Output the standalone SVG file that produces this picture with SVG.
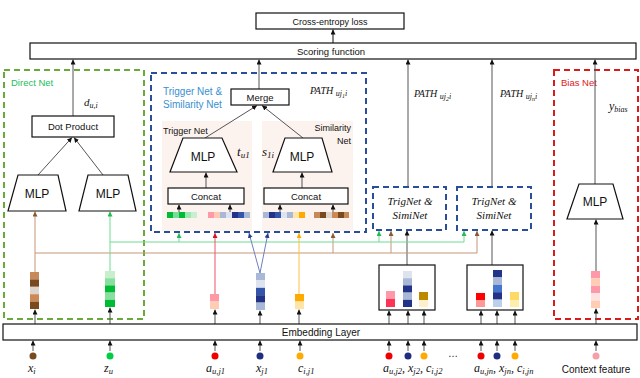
<svg xmlns="http://www.w3.org/2000/svg" width="640" height="378" viewBox="0 0 640 378">
<style>
.box{fill:#fff;stroke:#111;stroke-width:1.2}
.t{font-family:"Liberation Sans","DejaVu Sans",sans-serif;font-size:9px;fill:#111;text-anchor:middle}
.mlp{font-family:"Liberation Sans","DejaVu Sans",sans-serif;font-size:12px;fill:#111;text-anchor:middle}
.m{font-family:"Liberation Serif","DejaVu Serif",serif;font-style:italic;font-size:12px;fill:#111}
.c{fill:none;stroke-width:1}
.k{stroke:#555;marker-end:url(#ak)}
.br{stroke:#c4977a}
.gr{stroke:#6fdc92}
.dash{fill:none;stroke-width:2;stroke-dasharray:6,4}
</style>
<defs>
<marker id="ak" viewBox="0 0 6 6" refX="6" refY="3" markerWidth="5" markerHeight="5" markerUnits="userSpaceOnUse" orient="auto"><path d="M0,0L6,3L0,6z" fill="#111"/></marker>
<marker id="abr" viewBox="0 0 6 6" refX="6" refY="3" markerWidth="5" markerHeight="5" markerUnits="userSpaceOnUse" orient="auto"><path d="M0,0L6,3L0,6z" fill="#8a5a30"/></marker>
<marker id="agr" viewBox="0 0 6 6" refX="6" refY="3" markerWidth="5" markerHeight="5" markerUnits="userSpaceOnUse" orient="auto"><path d="M0,0L6,3L0,6z" fill="#22bb55"/></marker>
<marker id="ard" viewBox="0 0 6 6" refX="6" refY="3" markerWidth="5" markerHeight="5" markerUnits="userSpaceOnUse" orient="auto"><path d="M0,0L6,3L0,6z" fill="#dd1122"/></marker>
<marker id="abl" viewBox="0 0 6 6" refX="6" refY="3" markerWidth="5" markerHeight="5" markerUnits="userSpaceOnUse" orient="auto"><path d="M0,0L6,3L0,6z" fill="#2a3d8f"/></marker>
<marker id="aor" viewBox="0 0 6 6" refX="6" refY="3" markerWidth="5" markerHeight="5" markerUnits="userSpaceOnUse" orient="auto"><path d="M0,0L6,3L0,6z" fill="#ffaa00"/></marker>
</defs>
<rect width="640" height="378" fill="#fff"/>

<!-- region boxes -->
<g id="direct-net">
<rect x="4" y="70" width="140" height="249" class="dash" stroke="#6aaa3a"/>
<text x="11" y="86" style="font-family:'Liberation Sans',sans-serif;font-size:9.5px;fill:#22c05a">Direct Net</text>
</g>
<g id="trigger-similarity-net">
<rect x="151" y="73" width="215" height="159" class="dash" stroke="#2a4f9a"/>
<text x="163" y="95" style="font-family:'Liberation Sans',sans-serif;font-size:10px;fill:#3a8fd0">Trigger Net &amp;</text>
<text x="163" y="108" style="font-family:'Liberation Sans',sans-serif;font-size:10px;fill:#3a8fd0">Similarity  Net</text>
<text x="310" y="94" class="m" style="font-size:10px">PATH <tspan font-size="8" dy="2">uj<tspan font-size="6" dy="2">1</tspan><tspan dy="-2">i</tspan></tspan></text>
<rect x="162" y="121" width="90" height="110" fill="#fdf3ee"/>
<rect x="262" y="121" width="91" height="110" fill="#fdf3ee"/>
<text x="163" y="134" style="font-family:'Liberation Sans',sans-serif;font-size:9px;fill:#111">Trigger Net</text>
<text x="351" y="131" text-anchor="end" style="font-family:'Liberation Sans',sans-serif;font-size:9px;fill:#111">Similarity</text>
<text x="351" y="144" text-anchor="end" style="font-family:'Liberation Sans',sans-serif;font-size:9px;fill:#111">Net</text>
</g>
<g id="bias-net">
<rect x="554" y="70" width="84" height="249" class="dash" stroke="#dd1a1a"/>
<text x="561" y="86" style="font-family:'Liberation Sans',sans-serif;font-size:9.5px;fill:#dd1a1a">Bias Net</text>
<text x="609" y="110" class="m">y<tspan font-size="8" dy="2">bias</tspan></text>
</g>

<!-- connectors -->
<g id="connectors">
<line x1="333" y1="43" x2="333" y2="29.5" class="c" stroke="#111" stroke-width="1.8" marker-end="url(#ak)"/>
<line x1="73" y1="116" x2="73" y2="59.5" class="c k"/>
<line x1="259" y1="89" x2="259" y2="59.5" class="c k"/>
<line x1="408" y1="187" x2="408" y2="59.5" class="c k"/>
<line x1="492" y1="187" x2="492" y2="59.5" class="c k"/>
<line x1="595" y1="184" x2="595" y2="59.5" class="c k"/>
<line x1="38" y1="175" x2="72" y2="137.5" class="c k"/>
<line x1="103" y1="175" x2="74" y2="137.5" class="c k"/>
<line x1="205" y1="138" x2="257" y2="105.5" class="c k"/>
<line x1="303" y1="138" x2="262" y2="105.5" class="c k"/>
<line x1="206" y1="188" x2="206" y2="172.5" class="c k"/>
<line x1="302" y1="188" x2="302" y2="172.5" class="c k"/>
<line x1="179" y1="213" x2="179" y2="204.5" class="c k"/>
<line x1="230" y1="213" x2="230" y2="204.5" class="c k"/>
<line x1="280" y1="213" x2="280" y2="204.5" class="c k"/>
<line x1="333" y1="213" x2="333" y2="204.5" class="c k"/>
<line x1="407" y1="265" x2="407" y2="230.5" class="c k"/>
<line x1="492" y1="265" x2="492" y2="230.5" class="c k"/>
<line x1="596" y1="271" x2="596" y2="219.5" class="c k"/>
<!-- embedding to bars -->
<line x1="35" y1="324" x2="35" y2="309.5" class="c k"/>
<line x1="110" y1="324" x2="110" y2="307.5" class="c k"/>
<line x1="215" y1="324" x2="215" y2="309.5" class="c k"/>
<line x1="260" y1="324" x2="260" y2="310.5" class="c k"/>
<line x1="299" y1="324" x2="299" y2="309.5" class="c k"/>
<line x1="389" y1="324" x2="389" y2="310.5" class="c k"/>
<line x1="408" y1="324" x2="408" y2="310.5" class="c k"/>
<line x1="424" y1="324" x2="424" y2="310.5" class="c k"/>
<line x1="481" y1="324" x2="481" y2="310.5" class="c k"/>
<line x1="497" y1="324" x2="497" y2="310.5" class="c k"/>
<line x1="515" y1="324" x2="515" y2="310.5" class="c k"/>
<line x1="596" y1="324" x2="596" y2="308.5" class="c k"/>
<!-- inputs to embedding -->
<line x1="33" y1="351" x2="33" y2="340.5" class="c k"/>
<line x1="110" y1="351" x2="110" y2="340.5" class="c k"/>
<line x1="215" y1="351" x2="215" y2="340.5" class="c k"/>
<line x1="260" y1="351" x2="260" y2="340.5" class="c k"/>
<line x1="300" y1="351" x2="300" y2="340.5" class="c k"/>
<line x1="389" y1="351" x2="389" y2="340.5" class="c k"/>
<line x1="408" y1="351" x2="408" y2="340.5" class="c k"/>
<line x1="424" y1="351" x2="424" y2="340.5" class="c k"/>
<line x1="481" y1="351" x2="481" y2="340.5" class="c k"/>
<line x1="497" y1="351" x2="497" y2="340.5" class="c k"/>
<line x1="515" y1="351" x2="515" y2="340.5" class="c k"/>
<line x1="596" y1="351" x2="596" y2="340.5" class="c k"/>
<!-- brown -->
<line x1="35" y1="272" x2="35" y2="211.5" class="c br" marker-end="url(#abr)"/>
<line x1="35" y1="253" x2="477" y2="253" class="c br"/>
<line x1="333" y1="253" x2="333" y2="233" class="c br" marker-end="url(#abr)"/>
<line x1="391" y1="253" x2="391" y2="231" class="c br" marker-end="url(#abr)"/>
<line x1="477" y1="253" x2="477" y2="231" class="c br" marker-end="url(#abr)"/>
<!-- green -->
<line x1="110" y1="271" x2="110" y2="211.5" class="c gr" marker-end="url(#agr)"/>
<line x1="110" y1="242" x2="464" y2="242" class="c gr"/>
<line x1="179" y1="242" x2="179" y2="233" class="c gr" marker-end="url(#agr)"/>
<line x1="379" y1="242" x2="379" y2="231" class="c gr" marker-end="url(#agr)"/>
<line x1="464" y1="242" x2="464" y2="231" class="c gr" marker-end="url(#agr)"/>
<!-- red / blue / orange -->
<line x1="215" y1="294" x2="215" y2="233" class="c" stroke="#ee5566" marker-end="url(#ard)"/>
<line x1="260" y1="273" x2="249" y2="233" class="c" stroke="#6f7fbf" marker-end="url(#abl)"/>
<line x1="260" y1="273" x2="268" y2="233" class="c" stroke="#6f7fbf" marker-end="url(#abl)"/>
<line x1="299" y1="294" x2="299" y2="233" class="c" stroke="#ffc040" marker-end="url(#aor)"/>
</g>

<!-- top boxes -->
<g id="cross-entropy">
<rect x="256" y="13" width="148" height="16" class="box"/>
<text x="330" y="24.5" class="t">Cross-entropy loss</text>
</g>
<g id="scoring">
<rect x="30" y="43" width="606" height="16" class="box"/>
<text x="331" y="54.5" class="t" style="font-size:9.5px">Scoring function</text>
</g>

<!-- direct net nodes -->
<g id="dot-product">
<rect x="32" y="116" width="82" height="21" class="box"/>
<text x="73" y="130" class="t" style="font-size:9.5px">Dot Product</text>
<text x="84" y="106" class="m" style="font-size:11px">d<tspan font-size="8" dy="2">u,i</tspan></text>
</g>
<g id="direct-mlp-1">
<path d="M18,175H58L66,211H8Z" class="box"/>
<text x="37" y="198" class="mlp">MLP</text>
</g>
<g id="direct-mlp-2">
<path d="M88,175H128L136,211H79Z" class="box"/>
<text x="108" y="198" class="mlp">MLP</text>
</g>

<!-- trigger/similarity nodes -->
<g id="merge">
<rect x="231" y="89" width="58" height="16" class="box"/>
<text x="260" y="100.5" class="t" style="font-size:9.5px">Merge</text>
</g>
<g id="trigger-mlp">
<path d="M183,138H222L237,172H170Z" class="box"/>
<text x="203" y="161" class="mlp">MLP</text>
<text x="237" y="156" class="m" style="font-size:13px">t<tspan font-size="9" dy="2">u1</tspan></text>
</g>
<g id="similarity-mlp">
<path d="M285,138H322L332,172H273Z" class="box"/>
<text x="302" y="161" class="mlp">MLP</text>
<text x="262" y="156" class="m" style="font-size:13px">s<tspan font-size="9" dy="2">1i</tspan></text>
</g>
<g id="trigger-concat">
<rect x="168" y="188" width="76" height="16" class="box"/>
<text x="206" y="199.5" class="t" style="font-size:9.5px">Concat</text>
<g stroke="none">
<rect x="167" y="212" width="6" height="6" fill="#00bb33"/><rect x="173" y="212" width="6" height="6" fill="#77dd99"/><rect x="179" y="212" width="6" height="6" fill="#00bb33"/><rect x="185" y="212" width="6" height="6" fill="#99e8b0"/><rect x="191" y="212" width="6" height="6" fill="#c8f0d0"/>
<rect x="208" y="212" width="6" height="6" fill="#ff99a6"/><rect x="214" y="212" width="6" height="6" fill="#ffc8b4"/><rect x="220" y="212" width="6" height="6" fill="#aab8d8"/><rect x="226" y="212" width="6" height="6" fill="#dde4f0"/><rect x="232" y="212" width="6" height="6" fill="#223388"/><rect x="238" y="212" width="6" height="6" fill="#3355aa"/><rect x="244" y="212" width="6" height="6" fill="#aab8d8"/>
</g>
</g>
<g id="similarity-concat">
<rect x="264" y="188" width="84" height="16" class="box"/>
<text x="306" y="199.5" class="t" style="font-size:9.5px">Concat</text>
<g stroke="none">
<rect x="263" y="212" width="6" height="6" fill="#aab8d8"/><rect x="269" y="212" width="6" height="6" fill="#223388"/><rect x="275" y="212" width="6" height="6" fill="#3355aa"/><rect x="281" y="212" width="6" height="6" fill="#dde4f0"/><rect x="287" y="212" width="6" height="6" fill="#aab8d8"/><rect x="293" y="212" width="6" height="6" fill="#ffe6a8"/><rect x="299" y="212" width="6" height="6" fill="#ffaa00"/>
<rect x="314" y="212" width="6" height="6" fill="#c8895a"/><rect x="320" y="212" width="6" height="6" fill="#7a4a1f"/><rect x="326" y="212" width="6" height="6" fill="#ddd5cc"/><rect x="332" y="212" width="6" height="6" fill="#cc8855"/><rect x="338" y="212" width="6" height="6" fill="#7a4a1f"/><rect x="344" y="212" width="5" height="6" fill="#c8895a"/>
</g>
</g>

<!-- TrigNet & SimiNet boxes -->
<g id="trigsimi-2">
<rect x="373" y="187" width="73" height="43" class="dash" stroke="#2a4f9a"/>
<text x="410" y="205" class="m" text-anchor="middle" style="font-size:11px">TrigNet &amp;</text>
<text x="410" y="219" class="m" text-anchor="middle" style="font-size:11px">SimiNet</text>
<text x="414" y="97" class="m" style="font-size:10px">PATH <tspan font-size="8" dy="2">uj<tspan font-size="6" dy="2">2</tspan><tspan dy="-2">i</tspan></tspan></text>
</g>
<g id="trigsimi-n">
<rect x="457" y="187" width="74" height="43" class="dash" stroke="#2a4f9a"/>
<text x="494" y="205" class="m" text-anchor="middle" style="font-size:11px">TrigNet &amp;</text>
<text x="494" y="219" class="m" text-anchor="middle" style="font-size:11px">SimiNet</text>
<text x="500" y="97" class="m" style="font-size:10px">PATH <tspan font-size="8" dy="2">uj<tspan font-size="6" dy="2">n</tspan><tspan dy="-2">i</tspan></tspan></text>
</g>

<!-- bias MLP -->
<g id="bias-mlp">
<path d="M579,184H613L623,219H567Z" class="box"/>
<text x="595" y="206" class="mlp">MLP</text>
</g>

<!-- embedding vectors -->
<g id="vec-xi">
<rect x="30" y="272" width="9" height="7.4" fill="#c8895a"/><rect x="30" y="279.4" width="9" height="7.4" fill="#7a4a1f"/><rect x="30" y="286.8" width="9" height="7.4" fill="#ddd5cc"/><rect x="30" y="294.2" width="9" height="7.4" fill="#cc8855"/><rect x="30" y="301.6" width="9" height="7.4" fill="#7a4a1f"/>
</g>
<g id="vec-zu">
<rect x="105" y="271" width="10" height="7.2" fill="#c8eecc"/><rect x="105" y="278.2" width="10" height="7.2" fill="#88e0a0"/><rect x="105" y="285.4" width="10" height="7.2" fill="#00bb33"/><rect x="105" y="292.6" width="10" height="7.2" fill="#88e0a0"/><rect x="105" y="299.8" width="10" height="7.2" fill="#00bb33"/>
</g>
<g id="vec-a1">
<rect x="210" y="294" width="9" height="7.5" fill="#ff99a6"/><rect x="210" y="301.5" width="9" height="7.5" fill="#ffccb4"/>
</g>
<g id="vec-x1">
<rect x="256" y="273" width="9" height="7.4" fill="#aab8d8"/><rect x="256" y="280.4" width="9" height="7.4" fill="#dde4f0"/><rect x="256" y="287.8" width="9" height="7.4" fill="#3355aa"/><rect x="256" y="295.2" width="9" height="7.4" fill="#223388"/><rect x="256" y="302.6" width="9" height="7.4" fill="#aab8d8"/>
</g>
<g id="vec-c1">
<rect x="295" y="294" width="9" height="7.5" fill="#ffaa00"/><rect x="295" y="301.5" width="9" height="7.5" fill="#ffe4a8"/>
</g>
<g id="group-2">
<rect x="379" y="265" width="56" height="45" class="box" stroke-width="1.5"/>
<rect x="386" y="291" width="9" height="8" fill="#ff99aa"/><rect x="386" y="299" width="9" height="8" fill="#ff3355"/>
<rect x="403" y="271" width="9" height="7.2" fill="#dde4f0"/><rect x="403" y="278.2" width="9" height="7.2" fill="#aab8d8"/><rect x="403" y="285.4" width="9" height="7.2" fill="#223388"/><rect x="403" y="292.6" width="9" height="7.2" fill="#aab8d8"/><rect x="403" y="299.8" width="9" height="7.2" fill="#223388"/>
<rect x="419" y="292" width="9" height="8" fill="#bb8800"/><rect x="419" y="300" width="9" height="7" fill="#fff0cc"/>
</g>
<g id="group-n">
<rect x="467" y="265" width="56" height="45" class="box" stroke-width="1.5"/>
<rect x="476" y="293" width="9" height="7" fill="#ff0000"/><rect x="476" y="300" width="9" height="7" fill="#ff9999"/>
<rect x="493" y="270" width="9" height="7.4" fill="#223388"/><rect x="493" y="277.4" width="9" height="7.4" fill="#aab8d8"/><rect x="493" y="284.8" width="9" height="7.4" fill="#4477cc"/><rect x="493" y="292.2" width="9" height="7.4" fill="#223388"/><rect x="493" y="299.6" width="9" height="7.4" fill="#bcd0ec"/>
<rect x="510" y="292" width="9" height="8" fill="#ffd966"/><rect x="510" y="300" width="9" height="7" fill="#ffeeaa"/>
</g>
<g id="vec-context">
<rect x="591" y="271" width="9" height="7.4" fill="#ff99aa"/><rect x="591" y="278.4" width="9" height="7.4" fill="#ffccb4"/><rect x="591" y="285.8" width="9" height="7.4" fill="#ff99aa"/><rect x="591" y="293.2" width="9" height="7.4" fill="#fde4e0"/><rect x="591" y="300.6" width="9" height="7.4" fill="#ffccb4"/>
</g>

<g id="embedding-layer">
<rect x="3" y="324" width="634" height="16" class="box"/>
<text x="321" y="335.5" class="t" style="font-size:10px">Embedding Layer</text>
</g>

<!-- inputs -->
<g id="input-xi"><circle cx="33" cy="356" r="3.5" fill="#7a4a1f"/><text x="28" y="372" class="m">x<tspan font-size="8.5" dy="2">i</tspan></text></g>
<g id="input-zu"><circle cx="110" cy="356" r="3.5" fill="#00cc44"/><text x="104" y="372" class="m">z<tspan font-size="8.5" dy="2">u</tspan></text></g>
<g id="input-a1"><circle cx="215" cy="356" r="3.5" fill="#ee0000"/><text x="206" y="372" class="m">a<tspan font-size="8.5" dy="2">u,j1</tspan></text></g>
<g id="input-x1"><circle cx="260" cy="356" r="3.5" fill="#1f2f7f"/><text x="256" y="372" class="m">x<tspan font-size="8.5" dy="2">j1</tspan></text></g>
<g id="input-c1"><circle cx="300" cy="356" r="3.5" fill="#ffaa00"/><text x="298" y="372" class="m">c<tspan font-size="8.5" dy="2">i,j1</tspan></text></g>
<g id="input-group2">
<circle cx="389" cy="356" r="3.5" fill="#ee0000"/><circle cx="408" cy="356" r="3.5" fill="#1f2f7f"/><circle cx="424" cy="356" r="3.5" fill="#ffaa00"/>
<text x="383" y="372" class="m">a<tspan font-size="8.5" dy="2">u,j2</tspan><tspan dy="-2">, x</tspan><tspan font-size="8.5" dy="2">j2</tspan><tspan dy="-2">, c</tspan><tspan font-size="8.5" dy="2">i,j2</tspan></text>
</g>
<g id="ellipsis"><text x="453" y="357" class="t" style="font-size:10px">…</text></g>
<g id="input-groupn">
<circle cx="481" cy="356" r="3.5" fill="#ee0000"/><circle cx="497" cy="356" r="3.5" fill="#1f2f7f"/><circle cx="515" cy="356" r="3.5" fill="#ffaa00"/>
<text x="474" y="372" class="m">a<tspan font-size="8.5" dy="2">u,jn</tspan><tspan dy="-2">, x</tspan><tspan font-size="8.5" dy="2">jn</tspan><tspan dy="-2">, c</tspan><tspan font-size="8.5" dy="2">i,jn</tspan></text>
</g>
<g id="input-context"><circle cx="596" cy="356" r="3.5" fill="#f4a0a8"/><text x="596" y="373" class="t" style="font-size:10px">Context feature</text></g>
</svg>
